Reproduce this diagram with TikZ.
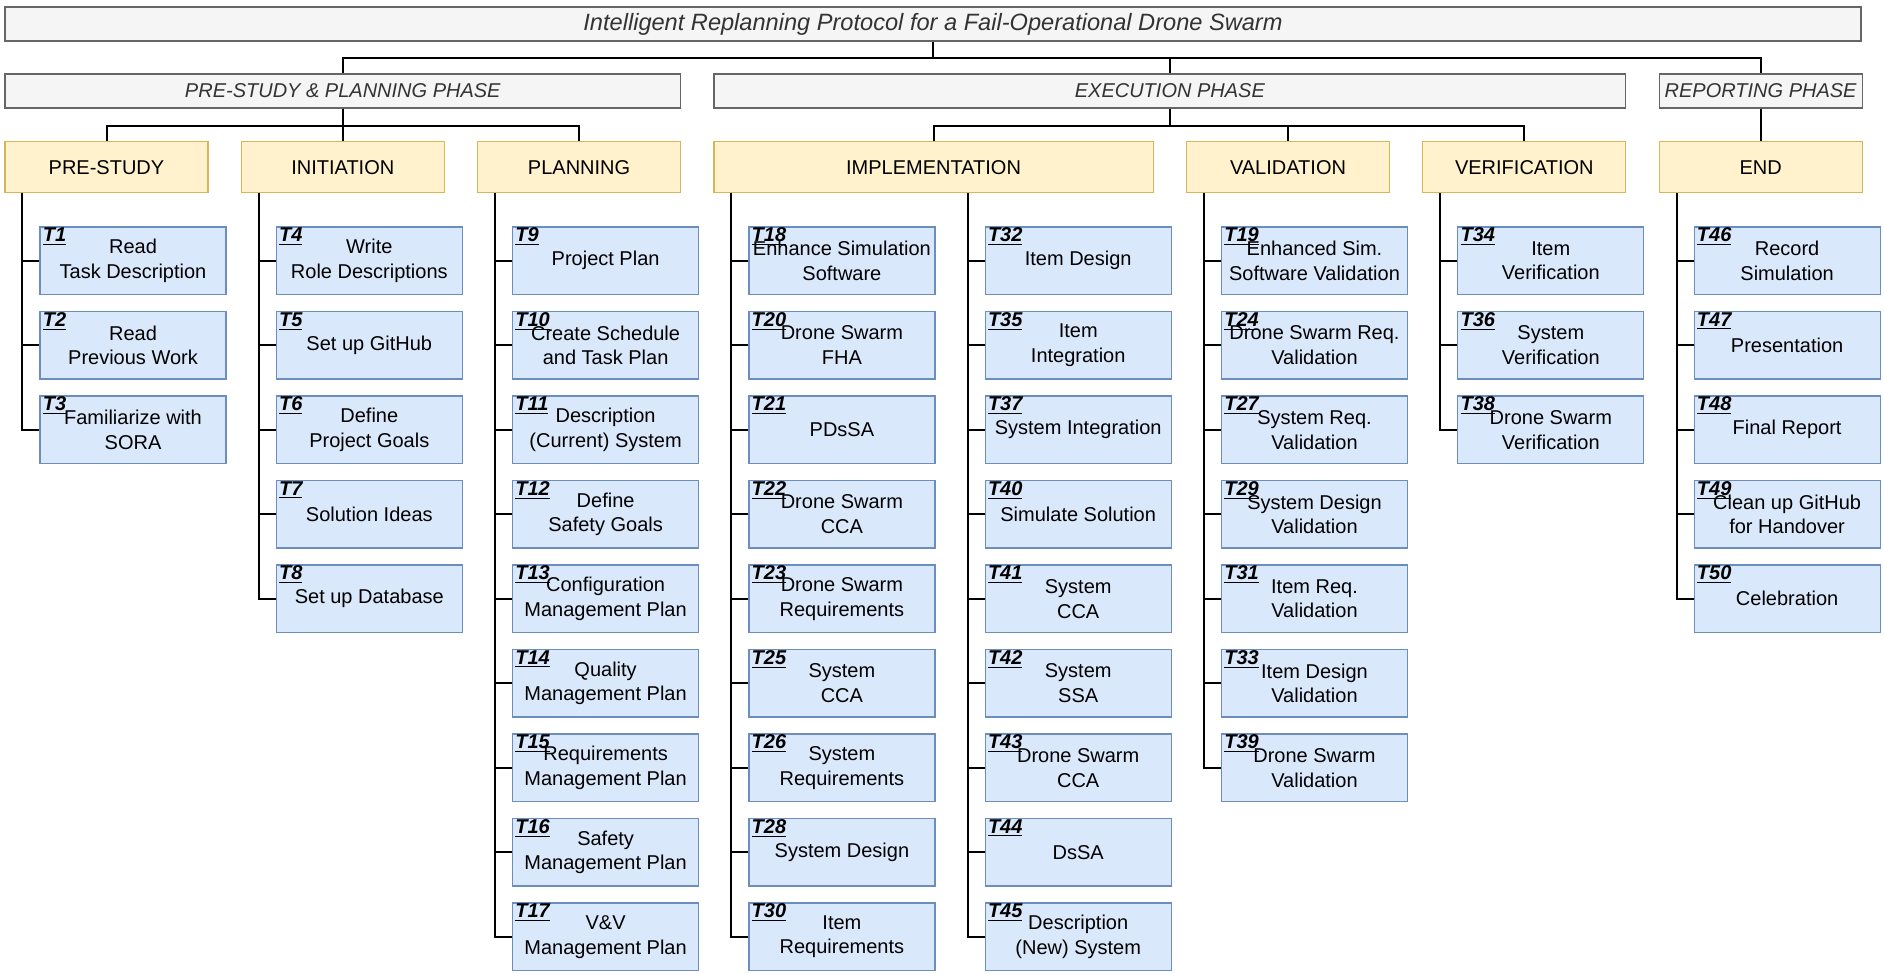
\documentclass[tikz,border=0pt]{standalone}
\usepackage{fontspec}
\setmainfont{Liberation Sans}
\usetikzlibrary{calc,positioning}
\definecolor{phasefill}{HTML}{F5F5F5}
\definecolor{phaseline}{HTML}{666666}
\definecolor{phasetext}{HTML}{333333}
\definecolor{catfill}{HTML}{FFF2CC}
\definecolor{catline}{HTML}{D6B656}
\definecolor{taskfill}{HTML}{DAE8FC}
\definecolor{taskline}{HTML}{6C8EBF}
\tikzset{
  phase/.style={draw=phaseline,fill=phasefill,text=phasetext,line width=0.6pt,inner sep=0pt,
    minimum height=17pt,font=\fontsize{10}{12.4}\selectfont\itshape},
  heading/.style={phase,minimum width=928pt,font=\fontsize{11.8}{14}\selectfont\itshape},
  category/.style={draw=catline,fill=catfill,line width=0.6pt,inner sep=0pt,
    minimum width=101.5pt,minimum height=25.5pt,font=\fontsize{10}{12.4}\selectfont},
  task/.style={draw=taskline,fill=taskfill,line width=0.6pt,inner sep=0pt,align=center,
    minimum width=93pt,minimum height=33.75pt,font=\fontsize{10}{12.4}\selectfont},
  tasknum/.style={anchor=north west,inner sep=0.5pt,xshift=1pt,
    font=\fontsize{10}{12}\selectfont\bfseries\itshape},
  tasklist/.style={below right,row sep=7.9pt,inner sep=0pt},
  link/.style={line width=1pt}
}
\begin{document}
\begin{tikzpicture}[x=0.5pt,y=-0.5pt]
\useasboundingbox (0,0) rectangle (1884,974);
\node [heading] (title) at (933,24) {Intelligent Replanning Protocol for a Fail-Operational Drone Swarm};
\node [phase,minimum width=337.8pt] (prephase) at (342.8,91) {PRE-STUDY \& PLANNING PHASE};
\node [phase,minimum width=455.95pt] (execphase) at (1169.85,91) {EXECUTION PHASE};
\node [phase,minimum width=101.5pt] (reportphase) at (1760.6,91) {REPORTING PHASE};
\node [category] (prestudy) at (106.5,167.25) {PRE-STUDY};
\node [category] (initiation) at (342.8,167.25) {INITIATION};
\node [category] (planning) at (579.1,167.25) {PLANNING};
\node [category,minimum width=219.65pt] (implementation) at (933.55,167.25) {IMPLEMENTATION};
\node [category] (validation) at (1288,167.25) {VALIDATION};
\node [category] (verification) at (1524.3,167.25) {VERIFICATION};
\node [category] (endcat) at (1760.6,167.25) {END};

\matrix [tasklist] at (39,226) {
  \node [task,label={[tasknum]north west:\underline{T1}}] (t1) {Read\\Task Description}; \\
  \node [task,label={[tasknum]north west:\underline{T2}}] (t2) {Read\\Previous Work}; \\
  \node [task,label={[tasknum]north west:\underline{T3}}] (t3) {Familiarize with\\SORA}; \\
};
\matrix [tasklist] at (275.3,226) {
  \node [task,label={[tasknum]north west:\underline{T4}}] (t4) {Write\\Role Descriptions}; \\
  \node [task,label={[tasknum]north west:\underline{T5}}] (t5) {Set up GitHub}; \\
  \node [task,label={[tasknum]north west:\underline{T6}}] (t6) {Define\\Project Goals}; \\
  \node [task,label={[tasknum]north west:\underline{T7}}] (t7) {Solution Ideas}; \\
  \node [task,label={[tasknum]north west:\underline{T8}}] (t8) {Set up Database}; \\
};
\matrix [tasklist] at (511.6,226) {
  \node [task,label={[tasknum]north west:\underline{T9}}] (t9) {Project Plan}; \\
  \node [task,label={[tasknum]north west:\underline{T10}}] (t10) {Create Schedule\\and Task Plan}; \\
  \node [task,label={[tasknum]north west:\underline{T11}}] (t11) {Description\\(Current) System}; \\
  \node [task,label={[tasknum]north west:\underline{T12}}] (t12) {Define\\Safety Goals}; \\
  \node [task,label={[tasknum]north west:\underline{T13}}] (t13) {Configuration\\Management Plan}; \\
  \node [task,label={[tasknum]north west:\underline{T14}}] (t14) {Quality\\Management Plan}; \\
  \node [task,label={[tasknum]north west:\underline{T15}}] (t15) {Requirements\\Management Plan}; \\
  \node [task,label={[tasknum]north west:\underline{T16}}] (t16) {Safety\\Management Plan}; \\
  \node [task,label={[tasknum]north west:\underline{T17}}] (t17) {V\&V\\Management Plan}; \\
};
\matrix [tasklist] at (747.9,226) {
  \node [task,label={[tasknum]north west:\underline{T18}}] (t18) {Enhance Simulation\\Software}; \\
  \node [task,label={[tasknum]north west:\underline{T20}}] (t20) {Drone Swarm\\FHA}; \\
  \node [task,label={[tasknum]north west:\underline{T21}}] (t21) {PDsSA}; \\
  \node [task,label={[tasknum]north west:\underline{T22}}] (t22) {Drone Swarm\\CCA}; \\
  \node [task,label={[tasknum]north west:\underline{T23}}] (t23) {Drone Swarm\\Requirements}; \\
  \node [task,label={[tasknum]north west:\underline{T25}}] (t25) {System\\CCA}; \\
  \node [task,label={[tasknum]north west:\underline{T26}}] (t26) {System\\Requirements}; \\
  \node [task,label={[tasknum]north west:\underline{T28}}] (t28) {System Design}; \\
  \node [task,label={[tasknum]north west:\underline{T30}}] (t30) {Item\\Requirements}; \\
};
\matrix [tasklist] at (984.2,226) {
  \node [task,label={[tasknum]north west:\underline{T32}}] (t32) {Item Design}; \\
  \node [task,label={[tasknum]north west:\underline{T35}}] (t35) {Item\\Integration}; \\
  \node [task,label={[tasknum]north west:\underline{T37}}] (t37) {System Integration}; \\
  \node [task,label={[tasknum]north west:\underline{T40}}] (t40) {Simulate Solution}; \\
  \node [task,label={[tasknum]north west:\underline{T41}}] (t41) {System\\CCA}; \\
  \node [task,label={[tasknum]north west:\underline{T42}}] (t42) {System\\SSA}; \\
  \node [task,label={[tasknum]north west:\underline{T43}}] (t43) {Drone Swarm\\CCA}; \\
  \node [task,label={[tasknum]north west:\underline{T44}}] (t44) {DsSA}; \\
  \node [task,label={[tasknum]north west:\underline{T45}}] (t45) {Description\\(New) System}; \\
};
\matrix [tasklist] at (1220.5,226) {
  \node [task,label={[tasknum]north west:\underline{T19}}] (t19) {Enhanced Sim.\\Software Validation}; \\
  \node [task,label={[tasknum]north west:\underline{T24}}] (t24) {Drone Swarm Req.\\Validation}; \\
  \node [task,label={[tasknum]north west:\underline{T27}}] (t27) {System Req.\\Validation}; \\
  \node [task,label={[tasknum]north west:\underline{T29}}] (t29) {System Design\\Validation}; \\
  \node [task,label={[tasknum]north west:\underline{T31}}] (t31) {Item Req.\\Validation}; \\
  \node [task,label={[tasknum]north west:\underline{T33}}] (t33) {Item Design\\Validation}; \\
  \node [task,label={[tasknum]north west:\underline{T39}}] (t39) {Drone Swarm\\Validation}; \\
};
\matrix [tasklist] at (1456.8,226) {
  \node [task,label={[tasknum]north west:\underline{T34}}] (t34) {Item\\Verification}; \\
  \node [task,label={[tasknum]north west:\underline{T36}}] (t36) {System\\Verification}; \\
  \node [task,label={[tasknum]north west:\underline{T38}}] (t38) {Drone Swarm\\Verification}; \\
};
\matrix [tasklist] at (1693.1,226) {
  \node [task,label={[tasknum]north west:\underline{T46}}] (t46) {Record\\Simulation}; \\
  \node [task,label={[tasknum]north west:\underline{T47}}] (t47) {Presentation}; \\
  \node [task,label={[tasknum]north west:\underline{T48}}] (t48) {Final Report}; \\
  \node [task,label={[tasknum]north west:\underline{T49}}] (t49) {Clean up GitHub\\for Handover}; \\
  \node [task,label={[tasknum]north west:\underline{T50}}] (t50) {Celebration}; \\
};

\draw [link] (title.south) -- ++(0,-8pt) -| (prephase.north);
\draw [link] (title.south) -- ++(0,-8pt) -| (execphase.north);
\draw [link] (title.south) -- ++(0,-8pt) -| (reportphase.north);
\draw [link] (prephase.south) -- ++(0,-8.5pt) -| (prestudy.north);
\draw [link] (prephase.south) -- ++(0,-8.5pt) -| (initiation.north);
\draw [link] (prephase.south) -- ++(0,-8.5pt) -| (planning.north);
\draw [link] (execphase.south) -- ++(0,-8.5pt) -| (implementation.north);
\draw [link] (execphase.south) -- ++(0,-8.5pt) -| (validation.north);
\draw [link] (execphase.south) -- ++(0,-8.5pt) -| (verification.north);
\draw [link] (reportphase.south) -- (endcat.north);

\draw [link] ($(prestudy.south -| t1.west)+(-8.5pt,0)$) |- (t3.west)
  (t1.west) -- ++(-8.5pt,0) (t2.west) -- ++(-8.5pt,0);
\draw [link] ($(initiation.south -| t4.west)+(-8.5pt,0)$) |- (t8.west)
  (t4.west) -- ++(-8.5pt,0) (t5.west) -- ++(-8.5pt,0) (t6.west) -- ++(-8.5pt,0)
  (t7.west) -- ++(-8.5pt,0);
\draw [link] ($(planning.south -| t9.west)+(-8.5pt,0)$) |- (t17.west)
  (t9.west) -- ++(-8.5pt,0) (t10.west) -- ++(-8.5pt,0) (t11.west) -- ++(-8.5pt,0)
  (t12.west) -- ++(-8.5pt,0) (t13.west) -- ++(-8.5pt,0) (t14.west) -- ++(-8.5pt,0)
  (t15.west) -- ++(-8.5pt,0) (t16.west) -- ++(-8.5pt,0);
\draw [link] ($(implementation.south -| t18.west)+(-8.5pt,0)$) |- (t30.west)
  (t18.west) -- ++(-8.5pt,0) (t20.west) -- ++(-8.5pt,0) (t21.west) -- ++(-8.5pt,0)
  (t22.west) -- ++(-8.5pt,0) (t23.west) -- ++(-8.5pt,0) (t25.west) -- ++(-8.5pt,0)
  (t26.west) -- ++(-8.5pt,0) (t28.west) -- ++(-8.5pt,0);
\draw [link] ($(implementation.south -| t32.west)+(-8.5pt,0)$) |- (t45.west)
  (t32.west) -- ++(-8.5pt,0) (t35.west) -- ++(-8.5pt,0) (t37.west) -- ++(-8.5pt,0)
  (t40.west) -- ++(-8.5pt,0) (t41.west) -- ++(-8.5pt,0) (t42.west) -- ++(-8.5pt,0)
  (t43.west) -- ++(-8.5pt,0) (t44.west) -- ++(-8.5pt,0);
\draw [link] ($(validation.south -| t19.west)+(-8.5pt,0)$) |- (t39.west)
  (t19.west) -- ++(-8.5pt,0) (t24.west) -- ++(-8.5pt,0) (t27.west) -- ++(-8.5pt,0)
  (t29.west) -- ++(-8.5pt,0) (t31.west) -- ++(-8.5pt,0) (t33.west) -- ++(-8.5pt,0);
\draw [link] ($(verification.south -| t34.west)+(-8.5pt,0)$) |- (t38.west)
  (t34.west) -- ++(-8.5pt,0) (t36.west) -- ++(-8.5pt,0);
\draw [link] ($(endcat.south -| t46.west)+(-8.5pt,0)$) |- (t50.west)
  (t46.west) -- ++(-8.5pt,0) (t47.west) -- ++(-8.5pt,0) (t48.west) -- ++(-8.5pt,0)
  (t49.west) -- ++(-8.5pt,0);
\end{tikzpicture}
\end{document}
